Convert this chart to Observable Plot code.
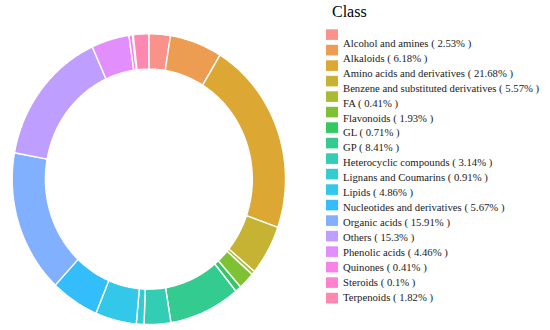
<!DOCTYPE html>
<html><head><meta charset="utf-8">
<script src="https://cdn.jsdelivr.net/npm/d3@7"></script>
<script src="https://cdn.jsdelivr.net/npm/@observablehq/plot@0.6"></script>
<style>
body{margin:0;background:#fff}
#wrap{position:relative;width:550px;height:330px;overflow:hidden}
#chart,#legend{position:absolute;left:0;top:0}
#legend text{font-family:"Liberation Serif","Times New Roman","DejaVu Serif",serif}
</style></head>
<body><div id="wrap"><div id="chart"></div><svg id="legend" width="550" height="330"></svg></div>
<script>
const classes = ["Alcohol and amines","Alkaloids","Amino acids and derivatives","Benzene and substituted derivatives","FA","Flavonoids","GL","GP","Heterocyclic compounds","Lignans and Coumarins","Lipids","Nucleotides and derivatives","Organic acids","Others","Phenolic acids","Quinones","Steroids","Terpenoids"];
const percents = [2.53,6.18,21.68,5.57,0.41,1.93,0.71,8.41,3.14,0.91,4.86,5.67,15.91,15.3,4.46,0.41,0.1,1.82];
const legendTitle = "Class";

// ggplot-like hue palette (polar LUV), drawn with alpha 0.8 over white
function hclR(h,c,l){
  const Xn=95.047,Yn=100,Zn=108.883, hr=h*Math.PI/180;
  const U=c*Math.cos(hr), V=c*Math.sin(hr);
  const Y = l>8 ? Yn*Math.pow((l+16)/116,3) : Yn*l/903.3;
  const t=Xn+15*Yn+3*Zn, un=4*Xn/t, vn=9*Yn/t;
  const u=U/(13*l)+un, v=V/(13*l)+vn;
  const X=9*Y*u/(4*v), Z=-X/3-5*Y+3*Y/v;
  const x=X/100,y=Y/100,z=Z/100;
  const r= 3.240479*x-1.537150*y-0.498535*z;
  const g=-0.969256*x+1.875992*y+0.041556*z;
  const b= 0.055648*x-0.204043*y+1.057311*z;
  const gam=q=>q<=0.0031308?12.92*q:1.055*Math.pow(q,1/2.4)-0.055;
  const a=0.8;
  const [R,G,B]=[r,g,b].map(q=>Math.max(0,Math.min(1,gam(q))));
  return d3.rgb((R*a+1-a)*255,(G*a+1-a)*255,(B*a+1-a)*255).formatHex();
}
const colors = classes.map((_,i)=>hclR(15+360*i/classes.length,100,65));

const inner = 0.757;
const total = d3.sum(percents);
const pts = [];
let cum = 0;
classes.forEach((c,i)=>{
  const a0=cum/total, a1=(cum+percents[i])/total; cum+=percents[i];
  const n=Math.max(2,Math.ceil((a1-a0)*400));
  const ring=[];
  for(let k=0;k<=n;k++){const t=2*Math.PI*(a0+(a1-a0)*k/n); ring.push({cls:c,x:Math.sin(t),y:Math.cos(t)});}
  for(let k=n;k>=0;k--){const t=2*Math.PI*(a0+(a1-a0)*k/n); ring.push({cls:c,x:inner*Math.sin(t),y:inner*Math.cos(t)});}
  ring.push({...ring[0]});
  pts.push(...ring);
});

const chart = Plot.plot({
  width:550, height:330,
  marginLeft:11.7, marginRight:265, marginTop:33.3, marginBottom:6,
  style:{background:"transparent"},
  x:{domain:[-1,1],axis:null},
  y:{domain:[-1,1],axis:null},
  color:{domain:classes,range:colors},
  marks:[
    Plot.line(pts,{x:"x",y:"y",z:"cls",fill:"cls",stroke:"white",strokeWidth:1.4,curve:"linear",strokeLinejoin:"miter"})
  ]
});
document.getElementById("chart").appendChild(chart);

const ff = "Liberation Serif";
const lg = d3.select("#legend");
lg.append("text").attr("x",332).attr("y",17).attr("font-family",ff).attr("font-size",16).attr("fill","#000").text(legendTitle);
classes.forEach((c,i)=>{
  lg.append("rect").attr("x",326).attr("y",29.3+i*15.5).attr("width",12).attr("height",10.6).attr("fill",colors[i]);
  lg.append("text").attr("x",343).attr("y",46.7+i*14.96).attr("font-family",ff).attr("font-size",10.7).attr("fill","#1a1a1a")
    .text(`${c} ( ${percents[i]}% )`);
});
</script>
</body></html>
